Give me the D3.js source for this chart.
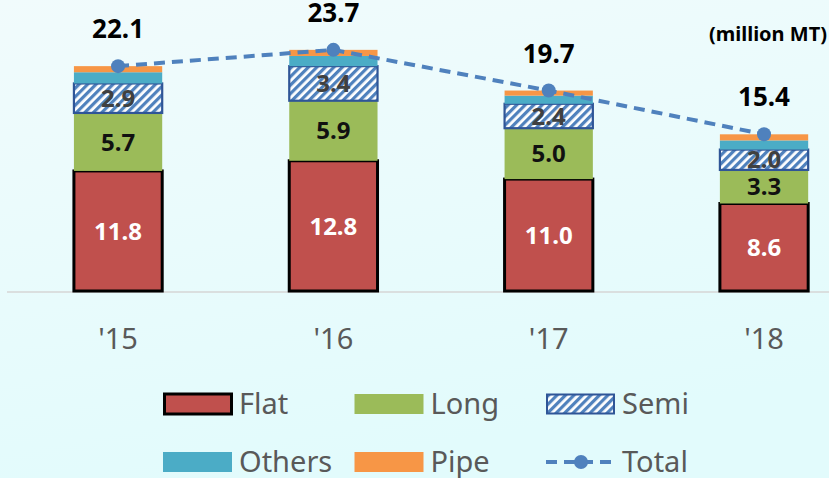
<!DOCTYPE html>
<html>
<head>
<meta charset="utf-8">
<script src="https://cdn.jsdelivr.net/npm/d3@7"></script>
<style>
  html, body { margin: 0; padding: 0; }
  body { width: 829px; height: 478px; overflow: hidden; }
  svg { display: block; font-family: "Noto Sans", "Open Sans", sans-serif; }
</style>
</head>
<body>
<svg id="chart" width="829" height="478"></svg>
<script>
const years = ["'15", "'16", "'17", "'18"];
const flat = [11.8, 12.8, 11.0, 8.6];
const long = [5.7, 5.9, 5.0, 3.3];
const semi = [2.9, 3.4, 2.4, 2.0];
const others = [1.1, 1.0, 0.8, 0.9];
const pipe = [0.6, 0.6, 0.5, 0.6];
const total = [22.1, 23.7, 19.7, 15.4];
const unitLabel = "(million MT)";
const seriesNames = ["Flat", "Long", "Semi", "Others", "Pipe"];

const colors = {
  Flat: "#C0504D",
  Long: "#9BBB59",
  Semi: "url(#hatch)",
  Others: "#4BACC6",
  Pipe: "#F79646"
};

const svg = d3.select("#chart");
const W = 829, H = 478;

const defs = svg.append("defs");
const grad = defs.append("linearGradient").attr("id", "bg").attr("x1", 0).attr("y1", 0).attr("x2", 0.3).attr("y2", 1);
grad.append("stop").attr("offset", "0%").attr("stop-color", "#F1FBFC");
grad.append("stop").attr("offset", "100%").attr("stop-color", "#E2FBFC");

const pat = defs.append("pattern").attr("id", "hatch")
  .attr("patternUnits", "userSpaceOnUse").attr("width", 6).attr("height", 6)
  .attr("patternTransform", "rotate(45)");
pat.append("rect").attr("width", 6).attr("height", 6).attr("fill", "#FFFFFF");
pat.append("rect").attr("width", 3.2).attr("height", 6).attr("fill", "#4F81BD");

svg.append("rect").attr("width", W).attr("height", H).attr("fill", "url(#bg)");

const table = years.map((y, i) => ({
  year: y, Flat: flat[i], Long: long[i], Semi: semi[i], Others: others[i], Pipe: pipe[i], Total: total[i]
}));

const x = d3.scaleBand().domain(years).range([10.4, 871.7]).paddingInner(0.59).paddingOuter(0.295);
const y = d3.scaleLinear().domain([0, 28.6]).range([291, 0]);

// axis line
svg.append("line").attr("x1", 7).attr("x2", 829).attr("y1", y(0) + 1).attr("y2", y(0) + 1)
  .attr("stroke", "#D6D6D6").attr("stroke-width", 1.5);

const stack = d3.stack().keys(seriesNames)(table);

const gBars = svg.append("g");
stack.forEach(layer => {
  const key = layer.key;
  gBars.selectAll(null).data(layer).enter().append("rect")
    .attr("x", d => x(d.data.year))
    .attr("width", x.bandwidth())
    .attr("y", d => y(d[1]))
    .attr("height", d => y(d[0]) - y(d[1]))
    .attr("fill", colors[key])
    .attr("stroke", key === "Flat" ? "#000000" : key === "Semi" ? "#2F5597" : "none")
    .attr("stroke-width", key === "Flat" ? 3 : key === "Semi" ? 2.2 : 0);
});

// segment labels
const labelStyle = { Flat: "#FFFFFF", Long: "#111111", Semi: "#404040" };
["Flat", "Long", "Semi"].forEach(key => {
  const layer = stack.find(s => s.key === key);
  svg.append("g").selectAll("text").data(layer).enter().append("text")
    .attr("x", d => x(d.data.year) + x.bandwidth() / 2)
    .attr("y", d => (y(d[0]) + y(d[1])) / 2)
    .attr("dy", "0.36em")
    .attr("text-anchor", "middle")
    .attr("font-size", 24)
    .attr("font-weight", "bold")
    .attr("fill", labelStyle[key])
    .text(d => d.data[key].toFixed(1));
});

// total line
const cx = d => x(d.year) + x.bandwidth() / 2;
const line = d3.line().x(cx).y(d => y(d.Total));
svg.append("path").datum(table).attr("d", line)
  .attr("fill", "none").attr("stroke", "#4F81BD").attr("stroke-width", 4)
  .attr("stroke-dasharray", "11,7");
svg.append("g").selectAll("circle").data(table).enter().append("circle")
  .attr("cx", cx).attr("cy", d => y(d.Total)).attr("r", 7).attr("fill", "#4F81BD");
svg.append("g").selectAll("text").data(table).enter().append("text")
  .attr("x", cx).attr("y", d => y(d.Total) - 28)
  .attr("text-anchor", "middle").attr("font-size", 26).attr("font-weight", "bold")
  .attr("fill", "#000").text(d => d.Total.toFixed(1));

// unit label
svg.append("text").attr("x", 827).attr("y", 41).attr("text-anchor", "end")
  .attr("font-size", 20).attr("font-weight", "bold").attr("fill", "#000").text(unitLabel);

// x axis labels
const xAxis = d3.axisBottom(x).tickSize(0).tickPadding(0);
const gx = svg.append("g").attr("transform", `translate(0,${y(0)})`).call(xAxis);
gx.select(".domain").remove();
gx.selectAll("text").attr("font-size", 29).attr("fill", "#595959")
  .attr("font-family", "\"Noto Sans\", sans-serif").attr("dy", "0").attr("y", 58);

// legend
const legendItems = [
  { name: "Flat", col: 0, row: 0 },
  { name: "Long", col: 1, row: 0 },
  { name: "Semi", col: 2, row: 0 },
  { name: "Others", col: 0, row: 1 },
  { name: "Pipe", col: 1, row: 1 },
  { name: "Total", col: 2, row: 1 }
];
const legX = d3.scalePoint().domain([0, 1, 2]).range([163, 546]);
const legY = d3.scalePoint().domain([0, 1]).range([404, 462]);
const lg = svg.append("g");
legendItems.forEach(it => {
  const gx0 = legX(it.col), gy = legY(it.row);
  const g = lg.append("g").attr("transform", `translate(${gx0},${gy})`);
  if (it.name === "Total") {
    g.append("line").attr("x1", 0).attr("x2", 70).attr("y1", 0).attr("y2", 0)
      .attr("stroke", "#4F81BD").attr("stroke-width", 4).attr("stroke-dasharray", "11,7");
    g.append("circle").attr("cx", 35).attr("cy", 0).attr("r", 7).attr("fill", "#4F81BD");
  } else if (it.name === "Flat") {
    g.append("rect").attr("x", 1.5).attr("y", -10).attr("width", 67).attr("height", 20)
      .attr("fill", colors.Flat).attr("stroke", "#000").attr("stroke-width", 3);
  } else if (it.name === "Semi") {
    g.append("rect").attr("x", 1).attr("y", -9.5).attr("width", 67).attr("height", 19)
      .attr("fill", colors.Semi).attr("stroke", "#2F5597").attr("stroke-width", 2);
  } else {
    g.append("rect").attr("x", 0).attr("y", -10).attr("width", 69).attr("height", 20)
      .attr("fill", colors[it.name]);
  }
  g.append("text").attr("x", 76).attr("y", 0).attr("dy", "0.36em")
    .attr("font-size", 29).attr("fill", "#595959").text(it.name);
});
</script>
</body>
</html>
